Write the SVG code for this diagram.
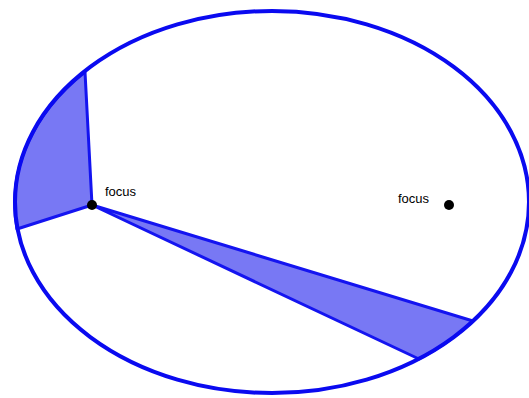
<svg xmlns="http://www.w3.org/2000/svg" width="529" height="398" viewBox="0 0 529 398">
<style>
.sector{fill:#7878f4;stroke:#1414f0;stroke-width:3;stroke-linejoin:round}
.orbit{fill:none;stroke:#0a0af0;stroke-width:4}
.lbl{font-family:"Liberation Sans",Arial,sans-serif;font-size:13px;fill:#000}
.dot{fill:#000}
</style>
<rect width="529" height="398" fill="#fff"/>
<g id="connectors">
<path id="sector-left" class="sector" d="M92,205 L85,72 A257,191 0 0,0 17,229 Z"/>
<path id="sector-right" class="sector" d="M92,205 L473,321 A257,191 0 0,1 419,359 Z"/>
</g>
<g id="orbit">
<ellipse class="orbit" cx="272" cy="202" rx="257" ry="191"/>
</g>
<g id="focus1">
<circle class="dot" cx="92" cy="205" r="5"/>
<text class="lbl" x="105" y="196">focus</text>
</g>
<g id="focus2">
<circle class="dot" cx="449" cy="205" r="5"/>
<text class="lbl" x="398" y="203">focus</text>
</g>
</svg>
